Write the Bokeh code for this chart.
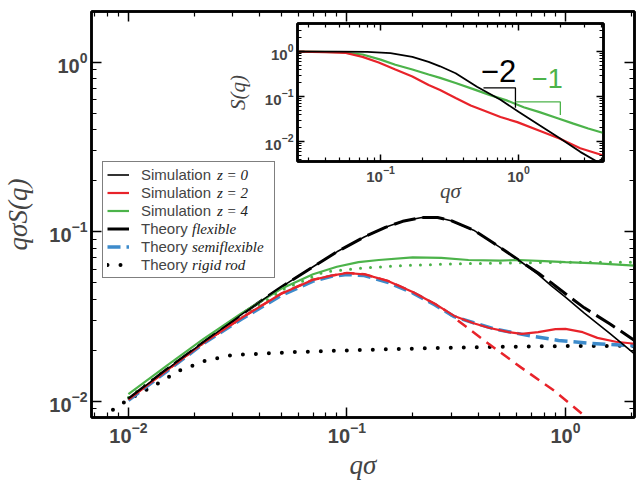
import numpy as np
from bokeh.plotting import figure
from bokeh.models import (LogAxis, FixedTicker, Legend, LegendItem, Range1d,
                          CustomJSTickFormatter)
from bokeh.embed import file_html
from bokeh.resources import INLINE
from bokeh.core.properties import value

# ---------------- main panel data: q*sigma*S(q) vs q*sigma ----------------
sim_z0_x = [0.01, 0.015, 0.022, 0.033, 0.05, 0.07, 0.09, 0.12, 0.15, 0.18, 0.22, 0.26, 0.3, 0.38, 0.5, 0.61, 0.75, 0.86, 1.0, 1.22, 1.6, 2.07]
sim_z0_y = [0.0103, 0.0154, 0.0222, 0.0325, 0.047, 0.062, 0.076, 0.093, 0.106, 0.115, 0.121, 0.121, 0.116, 0.102, 0.081, 0.068, 0.056, 0.048, 0.041, 0.033, 0.025, 0.019]

th_flex_x = [0.01, 0.015, 0.022, 0.033, 0.05, 0.07, 0.09, 0.12, 0.15, 0.18, 0.22, 0.26, 0.3, 0.38, 0.5, 0.61, 0.75, 0.86, 1.0, 1.22, 1.6, 2.07]
th_flex_y = [0.0103, 0.0154, 0.0222, 0.0325, 0.047, 0.062, 0.076, 0.093, 0.106, 0.115, 0.121, 0.121, 0.116, 0.102, 0.081, 0.068, 0.057, 0.05, 0.043, 0.0355, 0.0285, 0.0228]

sim_z2_x = [0.01, 0.015, 0.022, 0.033, 0.05, 0.07, 0.085, 0.1, 0.12, 0.155, 0.2, 0.252, 0.28, 0.31, 0.38, 0.445, 0.55, 0.63, 0.75, 0.9, 1.0, 1.2, 1.4, 1.7, 2.07]
sim_z2_y = [0.0102, 0.0152, 0.022, 0.031, 0.043, 0.052, 0.055, 0.057, 0.056, 0.051, 0.044, 0.0375, 0.0345, 0.0318, 0.0288, 0.0271, 0.0255, 0.0249, 0.0255, 0.0266, 0.0267, 0.0255, 0.0236, 0.0224, 0.0218]

th_z2_flex_x = [0.01, 0.015, 0.022, 0.033, 0.05, 0.07, 0.085, 0.1, 0.12, 0.155, 0.2, 0.252, 0.28, 0.31, 0.445, 0.63, 0.89, 1.22, 1.6, 2.07]
th_z2_flex_y = [0.0102, 0.0152, 0.022, 0.031, 0.043, 0.052, 0.055, 0.057, 0.056, 0.051, 0.044, 0.0375, 0.0345, 0.031, 0.0218, 0.0157, 0.0115, 0.0082, 0.0063, 0.0048]

th_semi_x = [0.01, 0.015, 0.022, 0.033, 0.05, 0.07, 0.085, 0.1, 0.12, 0.155, 0.2, 0.252, 0.31, 0.38, 0.47, 0.66, 0.93, 1.32, 2.07]
th_semi_y = [0.0101, 0.015, 0.0218, 0.0305, 0.042, 0.051, 0.0545, 0.0558, 0.055, 0.050, 0.0435, 0.037, 0.0315, 0.029, 0.0267, 0.0245, 0.0228, 0.0219, 0.0212]

sim_z4_x = [0.01, 0.015, 0.022, 0.033, 0.05, 0.07, 0.09, 0.113, 0.14, 0.2, 0.27, 0.36, 0.5, 0.61, 0.8, 1.0, 1.4, 2.07]
sim_z4_y = [0.011, 0.0162, 0.0232, 0.033, 0.046, 0.056, 0.062, 0.066, 0.068, 0.0705, 0.070, 0.068, 0.0675, 0.068, 0.067, 0.066, 0.065, 0.063]

th_z4_rod_x = [0.01, 0.015, 0.022, 0.033, 0.05, 0.079, 0.12, 0.178, 0.31, 0.63, 1.0, 1.8, 2.07]
th_z4_rod_y = [0.0105, 0.0155, 0.022, 0.031, 0.045, 0.058, 0.061, 0.063, 0.0645, 0.0655, 0.066, 0.066, 0.066]

th_rod_x = [0.0085, 0.01, 0.0131, 0.0171, 0.0225, 0.03, 0.04, 0.054, 0.085, 0.15, 0.27, 0.5, 1.0, 2.07]
th_rod_y = [0.0089, 0.0102, 0.0123, 0.0151, 0.0173, 0.0187, 0.019, 0.0194, 0.0198, 0.0202, 0.0206, 0.0209, 0.0211, 0.0212]

# ---------------- inset data: S(q) vs q*sigma ----------------
in_z0_x = [0.025, 0.05, 0.08, 0.118, 0.17, 0.223, 0.27, 0.35, 0.5, 0.74, 1.0, 1.42, 1.98, 2.8, 3.7, 4.13]
in_z0_y = [1.0, 1.0, 0.98, 0.92, 0.76, 0.59, 0.47, 0.33, 0.165, 0.085, 0.046, 0.023, 0.012, 0.0059, 0.0036, 0.003]
in_z2_x = [0.025, 0.04, 0.056, 0.074, 0.097, 0.128, 0.17, 0.223, 0.27, 0.35, 0.45, 0.53, 0.74, 0.98, 1.42, 1.98, 2.8, 4.13]
in_z2_y = [1.0, 0.97, 0.93, 0.76, 0.57, 0.40, 0.28, 0.18, 0.14, 0.093, 0.063, 0.052, 0.035, 0.027, 0.0174, 0.0117, 0.0071, 0.0049]
in_z4_x = [0.025, 0.05, 0.074, 0.1, 0.128, 0.17, 0.223, 0.27, 0.35, 0.47, 0.63, 0.83, 1.09, 1.42, 1.92, 2.5, 3.2, 4.13]
in_z4_y = [1.0, 0.97, 0.86, 0.66, 0.51, 0.40, 0.31, 0.26, 0.20, 0.146, 0.106, 0.081, 0.058, 0.045, 0.033, 0.025, 0.0195, 0.0155]

slope2_x = [0.557, 0.95, 0.95]
slope2_y = [0.156, 0.156, 0.056]
slope1_x = [0.95, 2.01, 2.01]
slope1_y = [0.076, 0.076, 0.039]
slope2_label = ["\u22122"]
slope1_label = ["\u22121"]

legend_main = ["Simulation", "Simulation", "Simulation", "Theory", "Theory", "Theory"]
legend_ital = ["z = 0", "z = 2", "z = 4", "flexible", "semiflexible", "rigid rod"]
y_title = "q\u03c3S(q)"
x_title = "q\u03c3"

BLACK = "#000000"
RED = "#e8232a"
GREEN = "#4cb34a"
BLUE = "#3d8bcb"
SANS = "Liberation Sans"
SERIF = "Liberation Serif"

# main frame geometry (pixels) and ranges
W, H = 640, 486
FL, FT, FR, FB = 89, 11, 632, 417
XR = (0.00678, 2.07)
YR = (0.0080, 1.99)


def log_ticks(lo, hi):
    majors = [10.0 ** e for e in range(lo, hi + 1)]
    minors = [m * 10.0 ** e for e in range(lo - 1, hi + 1) for m in range(2, 10)]
    return majors, minors


blank = CustomJSTickFormatter(code="return ''")


def style_axis(ax, majors, minors, size, tin, tmin, show=True):
    ax.ticker = FixedTicker(ticks=majors, minor_ticks=minors)
    ax.major_tick_in = tin
    ax.major_tick_out = 0
    ax.minor_tick_in = tmin
    ax.minor_tick_out = 0
    ax.major_tick_line_width = 1.5
    ax.minor_tick_line_width = 1.2
    ax.axis_line_width = 2.5
    ax.major_label_text_font = SANS
    ax.major_label_text_font_style = "bold"
    ax.major_label_text_font_size = size
    ax.major_label_standoff = 4
    if not show:
        ax.formatter = blank
        ax.major_label_standoff = 0


def style_label(ax, text, size, standoff):
    ax.axis_label = text
    ax.axis_label_text_font = SERIF
    ax.axis_label_text_font_style = "italic"
    ax.axis_label_text_font_size = size
    ax.axis_label_standoff = standoff


# ---------------- main figure ----------------
p = figure(frame_width=FR - FL, frame_height=FB - FT, x_axis_type="log", y_axis_type="log",
           x_range=Range1d(*XR), y_range=Range1d(*YR),
           output_backend="svg", toolbar_location=None,
           min_border_left=FL, min_border_right=W - FR, min_border_top=FT, min_border_bottom=H - FB)
p.xgrid.visible = False
p.ygrid.visible = False
p.outline_line_color = "black"
p.outline_line_width = 2.5
p.background_fill_color = "white"
p.border_fill_color = "white"

bottom_ax = p.xaxis[0]
left_ax = p.yaxis[0]
mx, mnx = log_ticks(-2, 0)
my, mny = log_ticks(-2, 0)
style_axis(bottom_ax, mx, mnx, "20px", 10, 5)
style_axis(left_ax, my, mny, "20px", 10, 5)
style_label(bottom_ax, x_title, "27px", 4)
style_label(left_ax, y_title, "27px", 13)
top_ax = LogAxis()
right_ax = LogAxis()
style_axis(top_ax, mx, mnx, "20px", 10, 5, show=False)
style_axis(right_ax, my, mny, "20px", 10, 5, show=False)
p.add_layout(top_ax, "above")
p.add_layout(right_ax, "right")

r_rod = p.line(th_rod_x, th_rod_y, color=BLACK, line_width=4, line_dash="0 13", line_cap="round")
r_z4rod = p.line(th_z4_rod_x, th_z4_rod_y, color=GREEN, line_width=3, line_dash="0 10", line_cap="round")
r_z2f = p.line(th_z2_flex_x, th_z2_flex_y, color=RED, line_width=2.5, line_dash="11 7")
r_semi = p.line(th_semi_x, th_semi_y, color=BLUE, line_width=3.5, line_dash="13 6")
r_flex = p.line(th_flex_x, th_flex_y, color=BLACK, line_width=3, line_dash="22 7")
r_z4 = p.line(sim_z4_x, sim_z4_y, color=GREEN, line_width=2.2)
r_z2 = p.line(sim_z2_x, sim_z2_y, color=RED, line_width=2.2)
r_z0 = p.line(sim_z0_x, sim_z0_y, color=BLACK, line_width=1.6)

# main legend (glyphs + upright part of each entry)
LEG_L, LEG_T, PAD, ROW = 100, 163, 4, 18
rends = [r_z0, r_z2, r_z4, r_flex, r_semi, r_rod]
items = [LegendItem(label=lab, renderers=[r]) for lab, r in zip(legend_main, rends)]
legend = Legend(items=items, location=(LEG_L - FL, FB - (LEG_T + 115)), glyph_width=22, glyph_height=15,
                label_height=15, label_width=129, label_standoff=12, spacing=1,
                padding=PAD, margin=0, border_line_color="black", border_line_width=1.5,
                background_fill_color="white", background_fill_alpha=1,
                label_text_font=SANS, label_text_font_size="15px")
p.add_layout(legend)


# italic part of each entry: two glyph-less legends laid out with the same row pitch
def italic_legend(labels, left_px, top_px):
    its = [LegendItem(label=t, renderers=[r_z0]) for t in labels]
    bottom_px = top_px + ROW * len(labels) - 1
    return Legend(items=its, location=(left_px - FL, FB - bottom_px), glyph_width=0,
                  glyph_height=15, label_height=15, label_standoff=0, spacing=1,
                  padding=0, margin=0, border_line_alpha=0, background_fill_alpha=0,
                  label_text_font=SERIF, label_text_font_style="italic",
                  label_text_font_size="15px", label_text_color="#222222")


p.add_layout(italic_legend(legend_ital[:3], 215, LEG_T + PAD))
p.add_layout(italic_legend(legend_ital[3:], 190, LEG_T + PAD + 3 * ROW))

# ---------------- inset figure ----------------
IFL, IFT, IFR, IFB = 297, 23, 603, 161
I_LEFT, I_TOP = 222, 16
inset = figure(frame_width=IFR - IFL, frame_height=IFB - IFT, x_axis_type="log", y_axis_type="log",
               x_range=Range1d(0.025, 4.13), y_range=Range1d(0.0036, 4.2),
               output_backend="svg", toolbar_location=None,
               min_border_left=IFL - I_LEFT, min_border_right=9, min_border_top=IFT - I_TOP,
               min_border_bottom=55,
               styles={"position": "absolute", "left": f"{I_LEFT}px", "top": f"{I_TOP}px"})
inset.xgrid.visible = False
inset.ygrid.visible = False
inset.border_fill_color = None
inset.background_fill_color = "white"
inset.outline_line_color = "black"
inset.outline_line_width = 2.5

ib = inset.xaxis[0]
il = inset.yaxis[0]
ix, inx = log_ticks(-1, 0)
iy, iny = log_ticks(-2, 0)
style_axis(ib, ix, inx, "15px", 7, 4)
style_axis(il, iy, iny, "15px", 7, 4)
style_label(ib, x_title, "21px", -6)
style_label(il, "S(q)", "21px", 12)
it = LogAxis()
ir = LogAxis()
style_axis(it, ix, inx, "15px", 7, 4, show=False)
style_axis(ir, iy, iny, "15px", 7, 4, show=False)
inset.add_layout(it, "above")
inset.add_layout(ir, "right")

inset.line(in_z4_x, in_z4_y, color=GREEN, line_width=2.2)
inset.line(in_z2_x, in_z2_y, color=RED, line_width=2.2)
inset.line(in_z0_x, in_z0_y, color=BLACK, line_width=1.8)
inset.line(slope2_x, slope2_y, color=BLACK, line_width=1.3)
inset.line(slope1_x, slope1_y, color=GREEN, line_width=1.3)
inset.text(x=[0.716], y=[0.37], text=slope2_label, text_font=value(SANS),
           text_font_size="31px", text_align="center", text_baseline="middle", text_color=BLACK)
inset.text(x=[1.62], y=[0.247], text=slope1_label, text_font=value(SANS),
           text_font_size="27px", text_align="center", text_baseline="middle", text_color=GREEN)

open("out.html", "w").write(file_html([p, inset], INLINE))
